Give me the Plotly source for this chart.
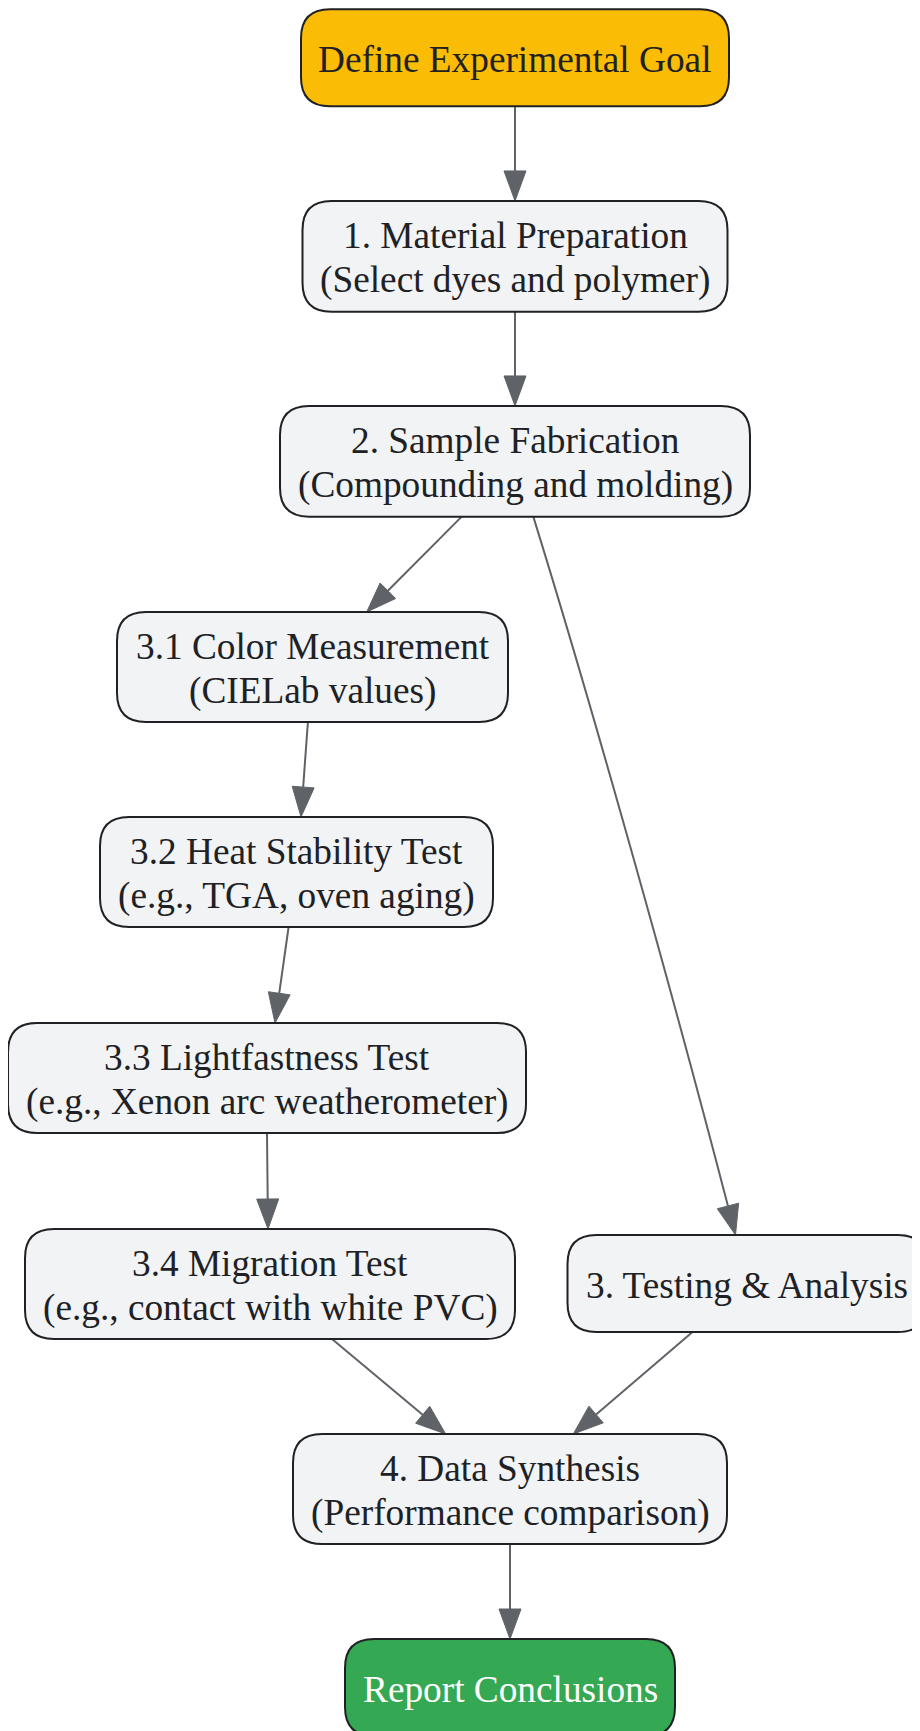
import math
import plotly.graph_objects as go

# ---- data: nodes (id, label lines, kind) and edges ----
node_ids = ["goal", "n1", "n2", "n31", "n32", "n33", "n34", "n3", "n4", "report"]
node_labels = [
    ["Define Experimental Goal"],
    ["1. Material Preparation", "(Select dyes and polymer)"],
    ["2. Sample Fabrication", "(Compounding and molding)"],
    ["3.1 Color Measurement", "(CIELab values)"],
    ["3.2 Heat Stability Test", "(e.g., TGA, oven aging)"],
    ["3.3 Lightfastness Test", "(e.g., Xenon arc weatherometer)"],
    ["3.4 Migration Test", "(e.g., contact with white PVC)"],
    ["3. Testing & Analysis"],
    ["4. Data Synthesis", "(Performance comparison)"],
    ["Report Conclusions"],
]
node_kinds = ["start", "step", "step", "step", "step", "step", "step", "step", "step", "end"]
edge_src = ["goal", "n1", "n2", "n2", "n31", "n32", "n33", "n34", "n3", "n4"]
edge_dst = ["n1", "n2", "n31", "n3", "n32", "n33", "n34", "n4", "n4", "report"]

# ---- layout (pixel-space positions of graph layout) ----
node_cx = [515, 515, 515, 312.5, 296.5, 267, 270, 747, 510, 510]
node_cy = [57.7, 256.3, 461.3, 667, 872, 1078, 1284, 1283.5, 1489, 1687.5]
node_w = [428, 425, 470, 391, 393, 518, 490, 359, 434, 330]
node_h = [97, 110.7, 110.7, 110, 110, 110, 110, 97, 110, 97]
# edge attachment offsets relative to node centres (src bottom, dst top)
edge_src_dx = [0, 0, -53.3, 18.3, -4.6, -7.9, 0, 62, -54.5, 0]
edge_dst_dx = [0, 0, 54.2, -11.5, 4.5, 8, -2, -64.3, 63.3, 0]
edge_curve = [None, None, None, (0.31, 0.26, 200), None, None, None, None, None, None]

styles = {
    "start": dict(fill="#FBBC05", text="#202124"),
    "step": dict(fill="#F1F3F4", text="#202124"),
    "end": dict(fill="#34A853", text="#FFFFFF"),
}
BORDER = "#202124"
EDGE = "#5F6368"
FONT = "Liberation Serif, Times New Roman, serif"
FSIZE = 37.3
LINE_GAP = 44
TEXT_DY = 1.5
RADIUS = 29
ARROW_L = 30
ARROW_HW = 11
PAGE_OFFSET = 8  # browser default body margin

fig = go.Figure()
shapes = []
annotations = []

idx = {n: i for i, n in enumerate(node_ids)}


def rounded_rect(cx, cy, w, h, r):
    x0, x1 = cx - w / 2, cx + w / 2
    y0, y1 = cy - h / 2, cy + h / 2
    return (f"M {x0 + r},{y0} L {x1 - r},{y0} Q {x1},{y0} {x1},{y0 + r} "
            f"L {x1},{y1 - r} Q {x1},{y1} {x1 - r},{y1} L {x0 + r},{y1} "
            f"Q {x0},{y1} {x0},{y1 - r} L {x0},{y0 + r} Q {x0},{y0} {x0 + r},{y0} Z")


# edges
for s, d, sdx, ddx, cv in zip(edge_src, edge_dst, edge_src_dx, edge_dst_dx, edge_curve):
    i, j = idx[s], idx[d]
    sx, sy = node_cx[i] + sdx, node_cy[i] + node_h[i] / 2
    tx, ty = node_cx[j] + ddx, node_cy[j] - node_h[j] / 2
    if cv is None:
        dx, dy = tx - sx, ty - sy
    else:
        dx, dy = cv[1], 1.0
    L = math.hypot(dx, dy)
    ux, uy = dx / L, dy / L
    bx, by = tx - ARROW_L * ux, ty - ARROW_L * uy
    if cv is None:
        path = f"M {sx},{sy} L {bx},{by}"
    else:
        k = cv[2]
        p1 = (sx + cv[0] * k, sy + k)
        p2 = (bx - cv[1] * k, by - k)
        path = f"M {sx},{sy} C {p1[0]},{p1[1]} {p2[0]},{p2[1]} {bx},{by}"
    shapes.append(dict(type="path", path=path, xref="x", yref="y",
                       line=dict(color=EDGE, width=2), layer="above"))
    nx, ny = -uy, ux
    tri = (f"M {tx},{ty} L {bx + ARROW_HW * nx},{by + ARROW_HW * ny} "
           f"L {bx - ARROW_HW * nx},{by - ARROW_HW * ny} Z")
    shapes.append(dict(type="path", path=tri, xref="x", yref="y",
                       fillcolor=EDGE, line=dict(color=EDGE, width=1), layer="above"))

# nodes
for i, nid in enumerate(node_ids):
    st = styles[node_kinds[i]]
    shapes.append(dict(type="path", path=rounded_rect(node_cx[i], node_cy[i], node_w[i], node_h[i], RADIUS),
                       xref="x", yref="y", fillcolor=st["fill"],
                       line=dict(color=BORDER, width=2), layer="above"))
    lines = node_labels[i]
    n = len(lines)
    for k, t in enumerate(lines):
        yy = node_cy[i] + TEXT_DY + (k - (n - 1) / 2) * LINE_GAP
        annotations.append(dict(x=node_cx[i], y=yy, xref="x", yref="y", text=t,
                                showarrow=False, xanchor="center", yanchor="middle",
                                font=dict(family=FONT, size=FSIZE, color=st["text"])))

# invisible trace to anchor axes
fig.add_trace(go.Scatter(x=node_cx, y=node_cy, mode="markers",
                         marker=dict(size=1, opacity=0), hoverinfo="skip", showlegend=False))

fig.update_layout(
    width=920, height=1731,
    margin=dict(l=0, r=0, t=0, b=0),
    paper_bgcolor="white", plot_bgcolor="white",
    shapes=shapes, annotations=annotations,
    xaxis=dict(range=[PAGE_OFFSET, 920 + PAGE_OFFSET], visible=False, fixedrange=True),
    yaxis=dict(range=[1731 + PAGE_OFFSET, PAGE_OFFSET], visible=False, fixedrange=True),
    showlegend=False,
)
fig.write_html("out.html")
